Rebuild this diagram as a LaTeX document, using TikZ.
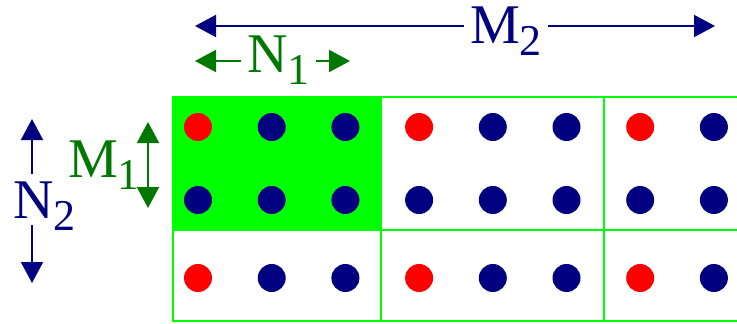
\documentclass[tikz,border=0pt]{standalone}
\usepackage{fontspec}
\setmainfont{Liberation Serif}
\newfontfamily\dimfont{Liberation Serif}
\usetikzlibrary{arrows.meta}
\definecolor{navy}{RGB}{0,0,128}
\definecolor{leaf}{RGB}{0,120,0}
\definecolor{lime}{RGB}{0,255,0}
\newcommand{\dimlbl}[2]{#1\smash{\raisebox{-0.22em}{\fontsize{44}{44}\selectfont #2}}}
\begin{document}
\begin{tikzpicture}[x=1pt,y=-1pt,>={Triangle[length=21pt,width=22pt]},
  dimarr/.style={line width=2pt, ->},
  dimtxt/.style={inner xsep=6pt, inner ysep=7pt, anchor=base west, font=\dimfont\fontsize{56}{58}\selectfont},
  dot/.style={circle, inner sep=0pt, minimum size=28pt}]
\useasboundingbox (0,0) rectangle (737,324);
% blocks
\fill[lime] (173,97) rectangle (381,230);
\draw[lime, line width=2pt] (737,97) -- (173,97) -- (173,321) -- (737,321)
  (173,230) -- (737,230) (381,97) -- (381,321) (604,97) -- (604,321);
% points
\foreach \c in {0,...,7}
  \foreach \r/\y in {0/127,1/200,2/278} {
    \pgfmathtruncatemacro\isred{(\r!=1)&&(mod(\c,3)==0)}
    \ifnum\isred=1 \def\dc{red}\else\def\dc{navy}\fi
    \node[dot, fill=\dc] (d-\c-\r) at ({198+73.7*\c},\y) {};
  }
% labels
\node[dimtxt, navy, inner ysep=2pt] (m2) at (464,43) {\dimlbl{M}{2}};
\node[dimtxt, leaf] (n1) at (241,72) {\dimlbl{N}{1}};
\node[dimtxt, leaf] (m1) at (62,177) {\dimlbl{M}{1}};
\node[dimtxt, navy] (n2) at (7,218) {\dimlbl{N}{2}};
% extents
\coordinate (m2a) at (195,26);
\coordinate (m2b) at (715,26);
\coordinate (n1a) at (195,61);
\coordinate (n1b) at (350,61);
\coordinate (m1a) at (148,122);
\coordinate (m1b) at (148,208);
\coordinate (n2a) at (32,119);
\coordinate (n2b) at (32,283);
\draw[dimarr, navy] (m2.west |- m2a) -- (m2a);
\draw[dimarr, navy] (m2.east |- m2b) -- (m2b);
\draw[dimarr, leaf] (n1.west |- n1a) -- (n1a);
\draw[dimarr, leaf] (n1.east |- n1b) -- (n1b);
\draw[dimarr, leaf, <->] (m1a) -- (m1b);
\draw[dimarr, navy] (n2.north -| n2a) -- (n2a);
\draw[dimarr, navy] (n2.south -| n2b) -- (n2b);
\end{tikzpicture}
\end{document}
